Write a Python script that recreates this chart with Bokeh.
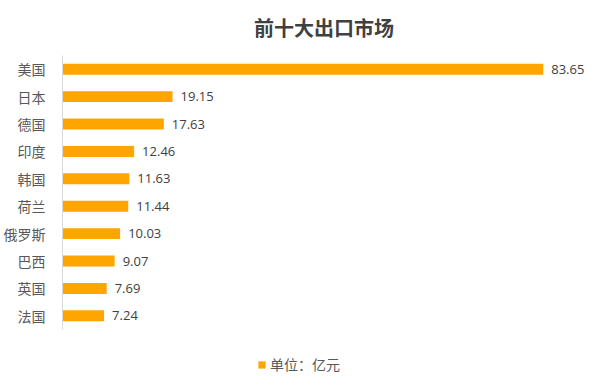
from bokeh.plotting import figure
from bokeh.models import ColumnDataSource, LabelSet, Legend, LegendItem, Range1d, FixedTicker
from bokeh.core.properties import value
from bokeh.embed import file_html
from bokeh.resources import INLINE

countries = ["美国", "日本", "德国", "印度", "韩国", "荷兰", "俄罗斯", "巴西", "英国", "法国"]
values = [83.65, 19.15, 17.63, 12.46, 11.63, 11.44, 10.03, 9.07, 7.69, 7.24]
labels = ["83.65", "19.15", "17.63", "12.46", "11.63", "11.44", "10.03", "9.07", "7.69", "7.24"]

FONT = "Noto Sans CJK SC"
NUMFONT = "Open Sans"

n = len(countries)
ypos = [n - 0.5 - i for i in range(n)]

src = ColumnDataSource(dict(country=countries, y=ypos, value=values, label=labels))

p = figure(width=585, height=374, y_range=Range1d(n - 11.64, n),
           x_range=Range1d(0, 91), output_backend="svg", toolbar_location=None,
           min_border_left=56, min_border_right=0, min_border_top=0, min_border_bottom=0)

r = p.hbar(y="y", right="value", left=0, height=0.4, source=src,
           fill_color="#FFA500", line_color=None)

p.add_layout(LabelSet(x="value", y="y", text="label", source=src,
                      x_offset=8, y_offset=0, text_baseline="middle",
                      text_font_size="13px", text_color="#404040",
                      text_font=value(NUMFONT)))

p.title.text = "前十大出口市场"
p.title.align = "center"
p.title.vertical_align = "top"
p.title.text_font = FONT
p.title.text_font_size = "20px"
p.title.text_color = "#404040"
p.title.text_font_style = "bold"
p.title.standoff = 24

p.xaxis.visible = False
p.xgrid.visible = False
p.ygrid.visible = False
p.yaxis.ticker = FixedTicker(ticks=ypos)
p.yaxis.major_label_overrides = {y: c for y, c in zip(ypos, countries)}
p.yaxis.bounds = (0, n)
p.yaxis.axis_line_color = "#d9d9d9"
p.yaxis.major_tick_line_color = None
p.yaxis.minor_tick_line_color = None
p.yaxis.major_label_text_font = FONT
p.yaxis.major_label_text_font_size = "14px"
p.yaxis.major_label_text_color = "#595959"
p.yaxis.major_label_standoff = 11
p.outline_line_color = None

legend = Legend(items=[LegendItem(label="单位：亿元", renderers=[r])],
                location=(195, 0), orientation="horizontal",
                label_text_font=FONT, label_text_font_size="14px",
                label_text_color="#595959", glyph_width=9, glyph_height=9,
                label_standoff=4, border_line_color=None, background_fill_alpha=0,
                margin=0, padding=0)
p.add_layout(legend)

open("out.html", "w").write(file_html(p, INLINE))
